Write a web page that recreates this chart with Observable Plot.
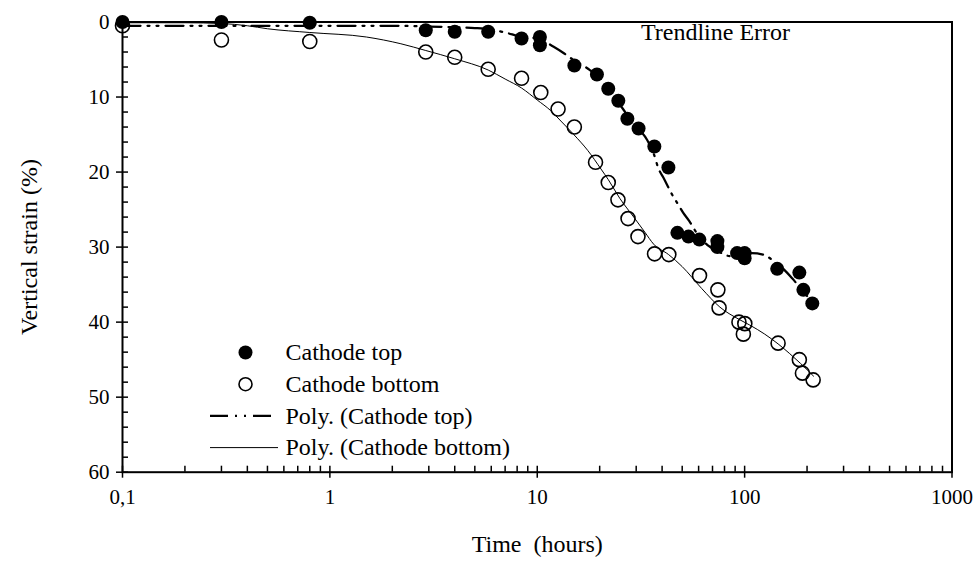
<!DOCTYPE html>
<html><head><meta charset="utf-8">
<script src="https://cdn.jsdelivr.net/npm/d3@7"></script>
<script src="https://cdn.jsdelivr.net/npm/@observablehq/plot@0.6"></script>
<style>html,body{margin:0;padding:0;background:#fff;} svg text{white-space:pre;}</style>
</head><body><div id="chart"></div>
<script>
// ---- data ----
const topTime   = [0.1, 0.3, 0.8, 2.9, 4.0, 5.8, 8.4, 10.3, 10.3, 15.1, 19.4, 22.0, 24.6, 27.2, 30.8, 36.7, 42.9, 47.4, 53.6, 60.5, 73.9, 73.9, 92, 100, 100, 143.6, 183.6, 192, 212];
const topStrain = [0, 0, 0.1, 1.1, 1.3, 1.3, 2.2, 2.0, 3.1, 5.8, 7.0, 8.9, 10.5, 12.9, 14.2, 16.6, 19.4, 28.1, 28.6, 29.0, 29.2, 30.0, 30.8, 30.8, 31.5, 32.9, 33.4, 35.7, 37.5];

const bottomTime   = [0.1, 0.3, 0.8, 2.9, 4.0, 5.8, 8.4, 10.4, 12.6, 15.1, 19.1, 22.0, 24.5, 27.4, 30.6, 36.8, 43.1, 60.6, 74.3, 75.3, 93.9, 100.2, 98.6, 145, 183.6, 190, 214];
const bottomStrain = [0.5, 2.4, 2.6, 4.0, 4.7, 6.3, 7.5, 9.4, 11.6, 14.0, 18.7, 21.4, 23.7, 26.2, 28.6, 30.9, 31.0, 33.8, 35.7, 38.1, 40.0, 40.2, 41.6, 42.8, 45.0, 46.8, 47.7];

const topTrendTime   = [0.1, 0.3, 1, 2, 3, 4, 5, 6, 7, 8.5, 10, 12, 13.5, 15, 17.5, 20, 22, 25, 29, 34, 36.5, 38.5, 40.5, 44.5, 47.5, 50.5, 54, 59, 66, 75, 85, 95, 108, 123, 140, 155, 170, 190, 215];
const topTrendStrain = [0.5, 0.5, 0.5, 0.5, 0.6, 0.7, 0.8, 1.0, 1.4, 2.0, 2.2, 3.3, 4.2, 5.1, 6.2, 7.5, 9.0, 11.0, 13.5, 15.8, 17.6, 19.6, 20.7, 22.9, 24.2, 25.4, 26.5, 28.2, 29.7, 30.6, 31.2, 31.2, 30.8, 31.0, 32.0, 33.0, 34.2, 35.8, 37.5];

const bottomTrendTime   = [0.1, 0.2, 0.3, 0.4, 0.5, 0.8, 1.5, 2.2, 2.9, 4.0, 5.8, 7.0, 8.4, 10, 11.6, 13, 15, 17.5, 20.3, 22, 25, 29.2, 33, 36.4, 43, 50, 62, 76, 95, 106, 125, 145, 165, 186, 215];
const bottomTrendStrain = [0.1, 0.1, 0.2, 0.5, 0.9, 1.4, 2.0, 2.9, 3.8, 4.9, 6.4, 7.6, 8.8, 10.4, 11.8, 13.2, 15.0, 17.1, 19.6, 21.0, 23.5, 26.0, 28.0, 29.6, 31.0, 32.6, 35.5, 38.0, 39.7, 40.4, 41.6, 42.9, 44.2, 45.5, 47.2];

const xTickValues = [0.1, 1, 10, 100, 1000];
const xTickLabels = ["0,1", "1", "10", "100", "1000"];
const xMinorMultipliers = [2, 3, 4, 5, 6, 7, 8, 9];
const yTickValues = [0, 10, 20, 30, 40, 50, 60];
const yMinorTicks = [2, 4, 6, 8, 12, 14, 16, 18, 22, 24, 26, 28, 32, 34, 36, 38, 42, 44, 46, 48, 52, 54, 56, 58];
const legendLabels = ["Cathode top", "Cathode bottom", "Poly. (Cathode top)", "Poly. (Cathode bottom)"];
const annotation = "Trendline Error";
const xTitle = "Time  (hours)";
const yTitle = "Vertical strain (%)";

// ---- build tables ----
const topPts = topTime.map((t, i) => ({t, s: topStrain[i]}));
const bottomPts = bottomTime.map((t, i) => ({t, s: bottomStrain[i]}));
const topTrend = topTrendTime.map((t, i) => ({t, s: topTrendStrain[i]}));
const bottomTrend = bottomTrendTime.map((t, i) => ({t, s: bottomTrendStrain[i]}));
const xMinorTicks = xTickValues.slice(0, -1).flatMap(d => xMinorMultipliers.map(m => d * m));

const W = 978, H = 561;
const mL = 122, mR = 26.5, mT = 21.5, mB = 89.3;
const plotW = W - mL - mR, plotH = H - mT - mB;
const tick = 6;
const dash = "18,7,2,7,2,7";

const legendRow0 = 330.5, legendGap = 31.7;
const marks = [
  Plot.line(bottomTrend, {x: "t", y: "s", stroke: "#000", strokeWidth: 1, curve: "monotone-x"}),
  Plot.line(topTrend, {x: "t", y: "s", stroke: "#000", strokeWidth: 2.25, strokeDasharray: dash, curve: "monotone-x"}),
  Plot.dot(bottomPts, {x: "t", y: "s", r: 7, stroke: "#000", strokeWidth: 1.6, fill: "none"}),
  Plot.dot(topPts, {x: "t", y: "s", r: 7, fill: "#000", stroke: "none"}),
  Plot.frame({stroke: "#000", strokeWidth: 2}),
  // x ticks
  Plot.tickX(xTickValues, {x: d => d, stroke: "#000", strokeWidth: 1.5, insetTop: plotH - tick, insetBottom: -tick}),
  Plot.tickX(xMinorTicks, {x: d => d, stroke: "#000", strokeWidth: 1.5, insetTop: plotH - tick}),
  // y ticks
  Plot.tickY(yTickValues, {y: d => d, stroke: "#000", strokeWidth: 1.5, insetLeft: -tick, insetRight: plotW - tick}),
  Plot.tickY(yMinorTicks, {y: d => d, stroke: "#000", strokeWidth: 1.5, insetRight: plotW - tick}),
  Plot.axisX({ticks: xTickValues, tickFormat: d => xTickLabels[xTickValues.indexOf(d)], tickSize: 0, tickPadding: 17, label: null, fontSize: 21}),
  Plot.axisY({ticks: yTickValues, tickFormat: d => String(d), tickSize: 0, tickPadding: 13, label: null, fontSize: 21}),
  Plot.text([xTitle], {frameAnchor: "bottom", dy: 72, fontSize: 24, text: d => d, textAnchor: "middle", lineAnchor: "middle"}),
  Plot.text([yTitle], {frameAnchor: "left", dx: -93, rotate: -90, fontSize: 24, text: d => d, textAnchor: "middle", lineAnchor: "middle"}),
  Plot.text([annotation], {frameAnchor: "top-left", dx: 593, dy: 10, fontSize: 24, text: d => d, textAnchor: "middle", lineAnchor: "middle"}),
  // legend
  Plot.dot([legendLabels[0]], {frameAnchor: "top-left", dx: 123, dy: legendRow0, r: 7, fill: "#000"}),
  Plot.dot([legendLabels[1]], {frameAnchor: "top-left", dx: 123, dy: legendRow0 + legendGap, r: 6.5, stroke: "#000", strokeWidth: 1.6, fill: "none"}),
  Plot.ruleY([0], {dy: legendRow0 + 2 * legendGap, insetLeft: 88, insetRight: plotW - 156, stroke: "#000", strokeWidth: 2.25, strokeDasharray: dash}),
  Plot.ruleY([0], {dy: legendRow0 + 3 * legendGap, insetLeft: 88, insetRight: plotW - 156, stroke: "#000", strokeWidth: 1}),
  ...legendLabels.map((lab, i) => Plot.text([lab], {frameAnchor: "top-left", dx: 163, dy: legendRow0 + i * legendGap, text: d => d, textAnchor: "start", lineAnchor: "middle", fontSize: 24}))
];

const chart = Plot.plot({
  width: W, height: H,
  marginLeft: mL, marginRight: mR, marginTop: mT, marginBottom: mB,
  x: {type: "log", domain: [0.1, 1000]},
  y: {domain: [0, 60], reverse: true},
  style: {fontFamily: "'Liberation Serif', 'Times New Roman', serif", fontSize: "21px", color: "#000", background: "#fff"},
  marks
});
document.getElementById("chart").appendChild(chart);
</script>
</body></html>
